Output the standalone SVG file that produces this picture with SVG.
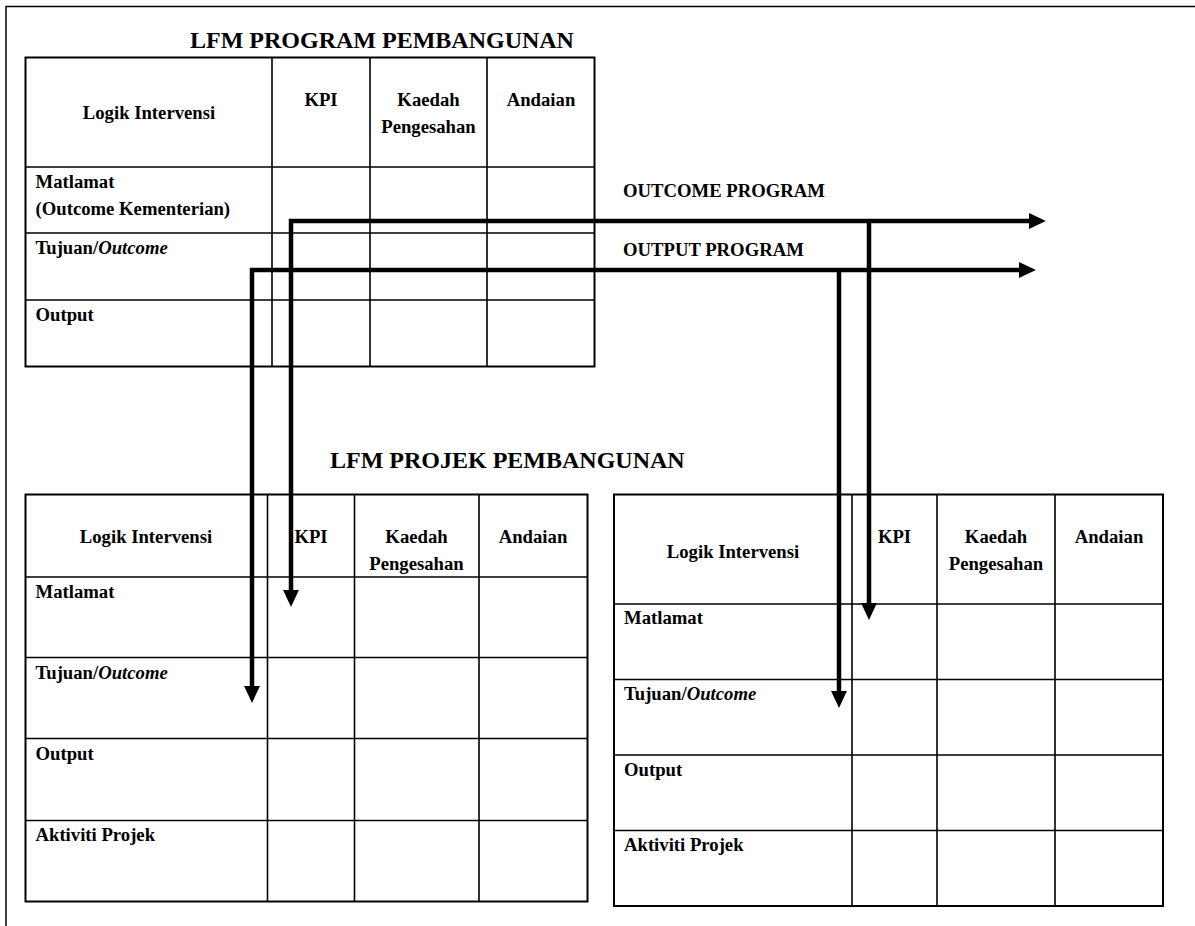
<svg xmlns="http://www.w3.org/2000/svg" width="1195" height="926" viewBox="0 0 1195 926">
  <style>
    text { font-family: "Liberation Serif", "Times New Roman", serif; font-weight: bold; fill: #000; }
    .title { font-size: 24px; }
    .t { font-size: 18.7px; }
    .mid { text-anchor: middle; }
    .it { font-style: italic; }
    .frame { fill: none; stroke: #000; stroke-width: 2; }
    .grid { fill: none; stroke: #000; stroke-width: 1.6; }
    .page { fill: none; stroke: #000; stroke-width: 1.5; }
    .flow { fill: none; stroke: #000; stroke-width: 4.5; stroke-linejoin: miter; }
  </style>
  <defs>
    <marker id="head" markerUnits="userSpaceOnUse" markerWidth="18" markerHeight="18" refX="1" refY="0" viewBox="0 -8 17 16" orient="auto-start-reverse">
      <path d="M0,-7.5 L16,0 L0,7.5 z" fill="#000"/>
    </marker>
  </defs>
  <rect width="1195" height="926" fill="#fff"/>

  <!-- page frame -->
  <path class="page" d="M6,926 V6.5 H1195"/>

  <!-- LFM program table -->
  <g id="lfm-program">
    <text class="title" x="190" y="48">LFM PROGRAM PEMBANGUNAN</text>
    <rect class="frame" x="25.5" y="57.5" width="569" height="309"/>
    <path class="grid" d="M272,57.5 V366.5 M370,57.5 V366.5 M487,57.5 V366.5 M25.5,167 H594.5 M25.5,233 H594.5 M25.5,300 H594.5"/>
    <text class="t mid" x="149" y="119">Logik Intervensi</text>
    <text class="t mid" x="321" y="106">KPI</text>
    <text class="t mid" x="428.5" y="106">Kaedah</text>
    <text class="t mid" x="428.5" y="133">Pengesahan</text>
    <text class="t mid" x="541" y="106">Andaian</text>
    <text class="t" x="35.5" y="188">Matlamat</text>
    <text class="t" x="35.5" y="215">(Outcome Kementerian)</text>
    <text class="t" x="35.5" y="254">Tujuan/<tspan class="it">Outcome</tspan></text>
    <text class="t" x="35.5" y="321">Output</text>
  </g>

  <!-- flow labels -->
  <g id="flow-labels">
    <text class="t" x="623" y="197">OUTCOME PROGRAM</text>
    <text class="t" x="623" y="256">OUTPUT PROGRAM</text>
  </g>

  <!-- LFM project table (left) -->
  <g id="lfm-projek-a">
    <text class="title" x="330" y="468">LFM PROJEK PEMBANGUNAN</text>
    <rect class="frame" x="25.5" y="494.5" width="562" height="407"/>
    <path class="grid" d="M267.5,494.5 V901.5 M354.5,494.5 V901.5 M479,494.5 V901.5 M25.5,577 H587.5 M25.5,657.5 H587.5 M25.5,738.5 H587.5 M25.5,820.5 H587.5"/>
    <text class="t mid" x="146" y="543">Logik Intervensi</text>
    <text class="t mid" x="311" y="543">KPI</text>
    <text class="t mid" x="416.5" y="543">Kaedah</text>
    <text class="t mid" x="416.5" y="570">Pengesahan</text>
    <text class="t mid" x="533" y="543">Andaian</text>
    <text class="t" x="35.5" y="598">Matlamat</text>
    <text class="t" x="35.5" y="679">Tujuan/<tspan class="it">Outcome</tspan></text>
    <text class="t" x="35.5" y="760">Output</text>
    <text class="t" x="35.5" y="841">Aktiviti Projek</text>
  </g>

  <!-- LFM project table (right) -->
  <g id="lfm-projek-b">
    <rect class="frame" x="614" y="494.5" width="549" height="411.5"/>
    <path class="grid" d="M852,494.5 V906 M937,494.5 V906 M1055,494.5 V906 M614,604 H1163 M614,679.5 H1163 M614,755 H1163 M614,830.5 H1163"/>
    <text class="t mid" x="733" y="558">Logik Intervensi</text>
    <text class="t mid" x="894.5" y="543">KPI</text>
    <text class="t mid" x="996" y="543">Kaedah</text>
    <text class="t mid" x="996" y="570">Pengesahan</text>
    <text class="t mid" x="1109" y="543">Andaian</text>
    <text class="t" x="624" y="624">Matlamat</text>
    <text class="t" x="624" y="700">Tujuan/<tspan class="it">Outcome</tspan></text>
    <text class="t" x="624" y="776">Output</text>
    <text class="t" x="624" y="851">Aktiviti Projek</text>
  </g>

  <!-- connectors -->
  <g id="connectors">
    <path class="flow" d="M291,591 V221 H1030" marker-start="url(#head)" marker-end="url(#head)"/>
    <path class="flow" d="M869,221 V604" marker-end="url(#head)"/>
    <path class="flow" d="M252,687 V270 H1020" marker-start="url(#head)" marker-end="url(#head)"/>
    <path class="flow" d="M839,270 V692" marker-end="url(#head)"/>
  </g>
</svg>
